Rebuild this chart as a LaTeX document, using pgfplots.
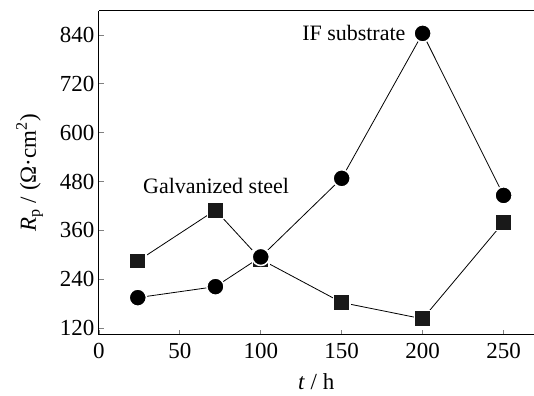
\documentclass[border=0pt]{standalone}
\usepackage{fontspec}
\setmainfont{Liberation Serif}
\usepackage{pgfplots}
\pgfplotsset{compat=1.18}
\begin{document}
\begin{tikzpicture}
\begin{axis}[
  scale only axis,
  width=435pt, height=324pt,
  xmin=0, xmax=268.5,
  ymin=104, ymax=899,
  axis x line*=bottom, axis y line*=left,
  xtick={0,50,100,150,200,250},
  ytick={120,240,360,480,600,720,840},
  x tick style={line width=0.8pt},
  y tick style={line width=0.8pt},
  xtick align=inside,
  ytick align=inside,
  major tick length=5pt,
  axis line style={line width=1pt},
  tick label style={font=\fontsize{23}{26}\selectfont},
  /pgf/number format/assume math mode=true,
  xticklabel style={yshift=-5pt},
  yticklabel style={xshift=-1pt},
  xlabel={\fontsize{23}{26}\selectfont\textit{t} / h},
  ylabel={\fontsize{23}{26}\selectfont\textit{R}\textsubscript{p} / (Ω·cm\textsuperscript{2})},
  xlabel style={yshift=-8pt},
  ylabel style={yshift=10pt},
  clip=false,
]
\addplot[black, line width=0.8pt, mark=square*,
  mark options={fill=black!90, draw=white, line width=1.5pt, solid}, mark size=8.2pt]
  coordinates {(24,285) (72,410) (100,289) (150,183) (200,143) (250,380)};
\addplot[black, line width=0.8pt, mark=*,
  mark options={fill=black, draw=white, line width=1.5pt, solid}, mark size=8.6pt]
  coordinates {(24,195) (72,222) (100,295) (150,488) (200,844) (250,446)};
\draw[line width=1pt] (rel axis cs:0,1) -- (rel axis cs:1,1);
\node[anchor=east, inner sep=0pt, font=\fontsize{22}{24}\selectfont] at (axis cs:189.5,845) {IF substrate};
\node[anchor=west, inner sep=0pt, font=\fontsize{22}{24}\selectfont] at (axis cs:27.2,468.5) {Galvanized steel};
\end{axis}
\path[use as bounding box] (-99pt,-61pt) rectangle (435pt,335pt);
\end{tikzpicture}
\end{document}
